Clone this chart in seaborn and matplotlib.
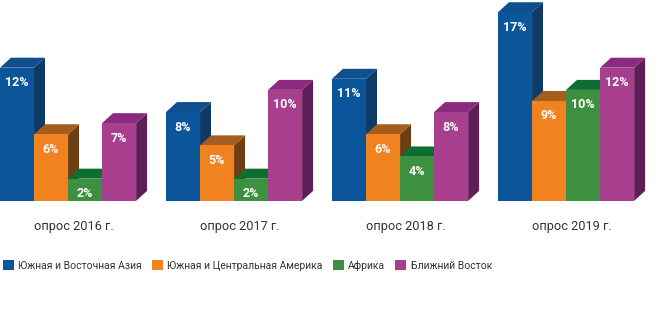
import matplotlib
matplotlib.use("Agg")
import matplotlib.pyplot as plt
from matplotlib.patches import Polygon, Patch
import seaborn as sns
import pandas as pd

surveys = ["опрос 2016 г.", "опрос 2017 г.", "опрос 2018 г.", "опрос 2019 г."]
regions = ["Южная и Восточная Азия", "Южная и Центральная Америка", "Африка", "Ближний Восток"]
asia = [12, 8, 11, 17]
america = [6, 5, 6, 9]
africa = [2, 2, 4, 10]
mideast = [7, 10, 8, 12]

front_colors = ["#0b559b", "#f08220", "#3e9041", "#a73e8e"]
top_colors = ["#104f8e", "#a65c1c", "#0d6e32", "#8a2b7f"]
side_colors = ["#0d3a66", "#6e3f14", "#0a4f24", "#5e1e56"]

rows = []
for reg, vals in zip(regions, [asia, america, africa, mideast]):
    for s, v in zip(surveys, vals):
        rows.append({"survey": s, "region": reg, "value": v})
df = pd.DataFrame(rows)

sns.set_theme(style="white")
plt.rcParams["font.family"] = ["Roboto", "DejaVu Sans"]

fig = plt.figure(figsize=(6.70, 3.34), dpi=100)
ax = fig.add_axes([0, 0, 1, 1])

sns.barplot(data=df, x="survey", y="value", hue="region", hue_order=regions,
            order=surveys, palette=front_colors, width=0.82, dodge=True,
            saturation=1, legend=False, ax=ax, errorbar=None)

ax.set_xlim(-0.41, 3.626)
ax.set_ylim(-12.0, 18.1)
ax.axis("off")

# oblique depth of the 3D boxes (data units)
dx, dy = 0.066, 0.9

bars = sorted([p for p in ax.patches if p.get_height() > 0], key=lambda p: p.get_x())
for i, p in enumerate(bars):
    x0, w, h = p.get_x(), p.get_width(), p.get_height()
    ci = front_colors.index(matplotlib.colors.to_hex(p.get_facecolor()))
    side = Polygon([(x0 + w, 0), (x0 + w + dx, dy), (x0 + w + dx, h + dy), (x0 + w, h)],
                   closed=True, facecolor=side_colors[ci], edgecolor="none", zorder=3 * i + 1)
    top = Polygon([(x0, h), (x0 + w, h), (x0 + w + dx, h + dy), (x0 + dx, h + dy)],
                  closed=True, facecolor=top_colors[ci], edgecolor="none", zorder=3 * i + 1)
    ax.add_patch(side)
    ax.add_patch(top)
    p.set_zorder(3 * i + 2)
    p.set_edgecolor("none")
    ax.text(x0 + w / 2, h - 1.35, f"{h:g}%", ha="center", va="center",
            color="white", fontsize=9, fontweight="bold", zorder=3 * i + 3)

for k, s in enumerate(surveys):
    ax.text(k + dx / 2, -2.35, s, ha="center", va="center", fontsize=9.2, color="#333333")

handles = [Patch(facecolor=c, edgecolor="none") for c in front_colors]
leg = ax.legend(handles, regions, loc="center left", bbox_to_anchor=(0.004, 0.205),
                ncol=4, frameon=False, fontsize=7.5, handlelength=1.05, handleheight=1.05,
                handletextpad=0.4, columnspacing=1.0, borderaxespad=0, borderpad=0)
for t in leg.get_texts():
    t.set_color("#333333")

fig.savefig("out.png", dpi=100)
